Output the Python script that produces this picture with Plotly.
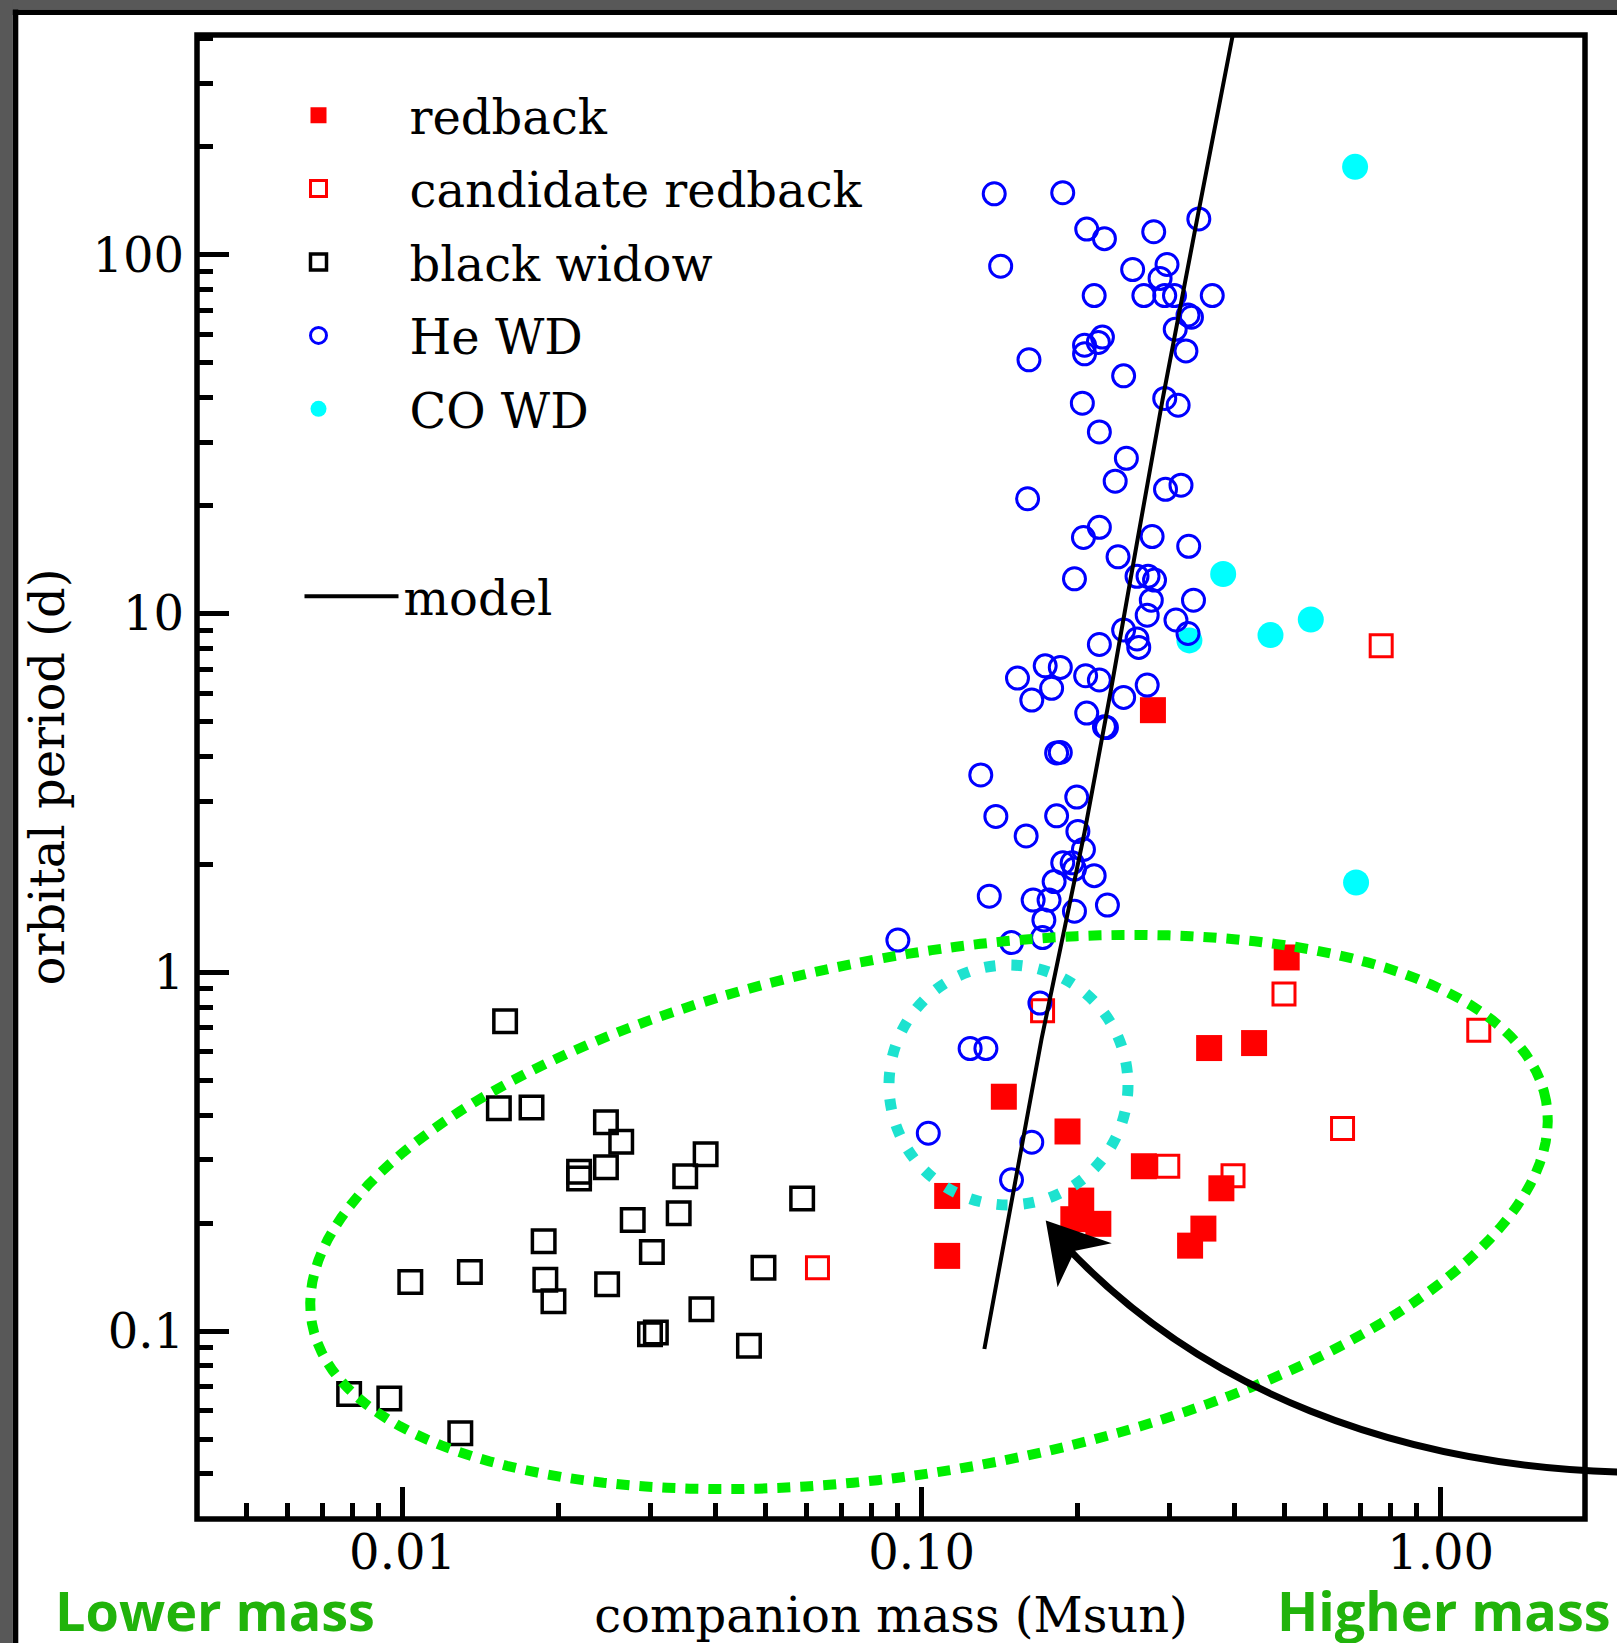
import math
import plotly.graph_objects as go

# ---------------- data ----------------
rb_mass = [0.279, 0.505, 0.358, 0.437, 0.144, 0.191, 0.268, 0.378, 0.112, 0.203,
           0.196, 0.219, 0.349, 0.329, 0.112]
rb_period = [5.38, 1.10, 0.615, 0.635, 0.450, 0.360, 0.288, 0.250, 0.238, 0.231,
             0.205, 0.199, 0.193, 0.173, 0.162]

crb_mass = [0.171, 0.499, 1.184, 0.647, 0.298, 0.398, 0.063, 0.768]
crb_period = [0.781, 0.870, 0.690, 0.367, 0.288, 0.271, 0.150, 8.14]

bw_mass = [0.01576, 0.01533, 0.01772, 0.02465, 0.02638, 0.02188, 0.02188, 0.02465,
           0.03836, 0.03504, 0.05886, 0.02776, 0.03404, 0.0187, 0.03022, 0.01035,
           0.01348, 0.01884, 0.01953, 0.02478, 0.04958, 0.03765, 0.02997, 0.03076,
           0.04649, 0.00789, 0.00943, 0.01292]
bw_period = [0.730, 0.418, 0.420, 0.382, 0.337, 0.278, 0.266, 0.286,
             0.311, 0.270, 0.234, 0.204, 0.213, 0.178, 0.166, 0.137,
             0.146, 0.139, 0.121, 0.135, 0.150, 0.115, 0.098, 0.099,
             0.091, 0.0667, 0.0649, 0.0519]

he_mass = [0.138, 0.187, 0.208, 0.225, 0.280, 0.342, 0.142, 0.255, 0.297, 0.288,
           0.215, 0.268, 0.294, 0.307, 0.363, 0.326, 0.331, 0.308, 0.323, 0.223,
           0.219, 0.206, 0.206, 0.161, 0.245, 0.204, 0.294, 0.312, 0.220, 0.248,
           0.236, 0.295, 0.316, 0.160, 0.220, 0.205, 0.278, 0.327, 0.239, 0.197,
           0.260, 0.273, 0.281, 0.277, 0.334, 0.272, 0.309, 0.326, 0.245, 0.260,
           0.262, 0.220, 0.173, 0.185, 0.153, 0.207, 0.220, 0.178, 0.272, 0.163,
           0.245, 0.208, 0.225, 0.227, 0.182, 0.185, 0.130, 0.199, 0.139, 0.182,
           0.159, 0.200, 0.205, 0.187, 0.195, 0.197, 0.215, 0.180, 0.135, 0.164,
           0.176, 0.197, 0.228, 0.172, 0.171, 0.090, 0.149, 0.169, 0.124, 0.133,
           0.103, 0.163, 0.149]
he_period = [148, 149, 118, 111, 116, 126, 93, 91, 94, 86,
             77, 77, 77, 77, 77, 68, 67, 62, 54, 59,
             57, 56, 53, 51, 46, 38.6, 39.8, 38.1, 32.1, 27.1,
             23.4, 22.2, 22.8, 20.9, 17.4, 16.3, 16.4, 15.4, 14.4, 12.5,
             12.7, 12.7, 12.4, 10.9, 10.9, 9.9, 9.6, 8.8, 9.0, 8.5,
             8.05, 8.2, 7.15, 7.08, 6.61, 6.71, 6.53, 6.19, 6.32, 5.74,
             5.84, 5.28, 4.84, 4.81, 4.09, 4.10, 3.55, 3.08, 2.72, 2.73,
             2.40, 2.47, 2.20, 2.02, 2.02, 1.94, 1.86, 1.79, 1.63, 1.59,
             1.59, 1.48, 1.54, 1.40, 1.25, 1.23, 1.21, 0.821, 0.613, 0.613,
             0.356, 0.336, 0.264]

co_mass = [0.684, 0.381, 0.470, 0.562, 0.328, 0.687]
co_period = [176, 12.9, 8.71, 9.63, 8.42, 1.78]

model_mass = [0.1321, 0.1702, 0.2060, 0.2312, 0.2607, 0.2913, 0.3403, 0.403]
model_period = [0.0891, 0.651, 2.46, 6.04, 16.13, 39.6, 128.3, 454]

x_tickvals = [0.01, 0.1, 1.0]
x_ticktext = ["0.01", "0.10", "1.00"]
y_tickvals = [0.1, 1, 10, 100]
y_ticktext = ["0.1", "1", "10", "100"]
x_minor = [d * 10.0 ** e for e in (-3, -2, -1) for d in range(2, 10)]
y_minor = [d * 10.0 ** e for e in (-2, -1, 0, 1, 2) for d in range(2, 10)]

# ---------------- layout geometry ----------------
W, H = 1617, 1643
ML, MR, MT, MB = 197, 32, 35, 124
PW, PH = W - ML - MR, H - MT - MB


def px(x):
    return (x - ML) / PW


def py(y):
    return (H - MB - y) / PH


SERIF = "DejaVu Serif"

fig = go.Figure()

# drawing order: black widow, redback, candidate, CO WD, He WD, model
fig.add_trace(go.Scatter(
    x=bw_mass, y=bw_period, mode="markers", name="black widow",
    legendgroup="bw", legendrank=3,
    marker=dict(symbol="square-open", size=22.5, color="black",
                line=dict(width=3.5, color="black"))))
fig.add_trace(go.Scatter(
    x=rb_mass, y=rb_period, mode="markers", name="redback",
    legendgroup="rb", legendrank=1,
    marker=dict(symbol="square", size=26, color="#ff0000",
                line=dict(width=0))))
fig.add_trace(go.Scatter(
    x=crb_mass, y=crb_period, mode="markers", name="candidate redback",
    legendgroup="crb", legendrank=2,
    marker=dict(symbol="square-open", size=22, color="#ff0000",
                line=dict(width=3, color="#ff0000"))))
fig.add_trace(go.Scatter(
    x=co_mass, y=co_period, mode="markers", name="CO WD",
    legendgroup="co", legendrank=5,
    marker=dict(symbol="circle", size=26, color="#00ffff",
                line=dict(width=0))))
fig.add_trace(go.Scatter(
    x=he_mass, y=he_period, mode="markers", name="He WD",
    legendgroup="he", legendrank=4,
    marker=dict(symbol="circle-open", size=22, color="#0000ff",
                line=dict(width=3, color="#0000ff"))))
fig.add_trace(go.Scatter(
    x=model_mass, y=model_period, mode="lines", name="model",
    legend="legend2",
    line=dict(color="black", width=4)))

shapes = []
# dark slide border (top and left)
gray = "#585858"
shapes.append(dict(type="rect", xref="paper", yref="paper", layer="below",
                   x0=px(0), x1=px(W), y0=py(0), y1=py(9.5),
                   fillcolor=gray, line=dict(width=0)))
shapes.append(dict(type="rect", xref="paper", yref="paper", layer="below",
                   x0=px(0), x1=px(12.7), y0=py(0), y1=py(H),
                   fillcolor=gray, line=dict(width=0)))
shapes.append(dict(type="rect", xref="paper", yref="paper", layer="below",
                   x0=px(12.7), x1=px(W), y0=py(9.5), y1=py(15),
                   fillcolor="black", line=dict(width=0)))
shapes.append(dict(type="rect", xref="paper", yref="paper", layer="below",
                   x0=px(12.7), x1=px(18.3), y0=py(9.5), y1=py(H),
                   fillcolor="black", line=dict(width=0)))

# plot frame
shapes.append(dict(type="rect", xref="paper", yref="paper", layer="above",
                   x0=0, x1=1, y0=0, y1=1,
                   line=dict(color="black", width=5.5)))

# green dotted ellipse (overlay annotation)
cx, cy, ea, eb, th = 929.0, 1212.0, 627.0, 258.0, math.radians(10.2)
pts = []
n = 160
for i in range(n):
    t = 2 * math.pi * i / n
    ex = cx + ea * math.cos(th) * math.cos(t) - eb * math.sin(th) * math.sin(t)
    ey = cy - (ea * math.sin(th) * math.cos(t) + eb * math.cos(th) * math.sin(t))
    pts.append(f"{px(ex):.5f},{py(ey):.5f}")
ell_path = "M " + " L ".join(pts) + " Z"
shapes.append(dict(type="path", xref="paper", yref="paper", layer="above",
                   path=ell_path,
                   line=dict(color="#00ee00", width=10, dash="13px,10px")))

# turquoise dotted circle
shapes.append(dict(type="circle", xref="paper", yref="paper", layer="above",
                   x0=px(889), x1=px(1128), y0=py(1205), y1=py(965),
                   line=dict(color="#1de2cf", width=11, dash="11px,16px")))


# hand-drawn curved arrow
def P(x, y):
    return f"{px(x):.5f},{py(y):.5f}"


arrow_path = ("M " + P(1620, 1472) + " C " + P(1400, 1466) + " " + P(1200, 1392)
              + " " + P(1062, 1242))
shapes.append(dict(type="path", xref="paper", yref="paper", layer="above",
                   path=arrow_path, line=dict(color="black", width=7)))
head_path = ("M " + P(1047, 1222) + " L " + P(1108, 1243) + " L " + P(1074, 1250)
             + " L " + P(1058, 1284) + " Z")
shapes.append(dict(type="path", xref="paper", yref="paper", layer="above",
                   path=head_path, fillcolor="black",
                   line=dict(color="black", width=2)))

annotations = [
    dict(text="Lower mass", xref="paper", yref="paper", x=px(53), y=py(1610),
         xanchor="left", yanchor="middle", showarrow=False,
         font=dict(family="Open Sans", size=54, color="#21b30b", weight=700)),
    dict(text="Higher mass", xref="paper", yref="paper", x=px(1613), y=py(1610),
         xanchor="right", yanchor="middle", showarrow=False,
         font=dict(family="Open Sans", size=54, color="#21b30b", weight=700)),
]

axis_common = dict(
    type="log", showgrid=False, zeroline=False, showline=False,
    automargin=False,
    ticks="inside", ticklen=32, tickwidth=5, tickcolor="black",
    tickfont=dict(family=SERIF, size=48, color="black"),
)

fig.update_layout(
    width=W, height=H,
    margin=dict(l=ML, r=MR, t=MT, b=MB, pad=0, autoexpand=False),
    paper_bgcolor="white", plot_bgcolor="white",
    font=dict(family=SERIF, size=48, color="black"),
    xaxis=dict(
        range=[-2.396, 0.278], tickvals=x_tickvals, ticktext=x_ticktext,
        ticklabelstandoff=1,
        minor=dict(tickvals=x_minor, ticks="inside", ticklen=16, tickwidth=5,
                   tickcolor="black", showgrid=False),
        title=dict(text="companion mass (Msun)",
                   font=dict(family=SERIF, size=48, color="black"), standoff=22),
        **axis_common),
    yaxis=dict(
        range=[-1.524, 2.613], tickvals=y_tickvals, ticktext=y_ticktext,
        ticklabelstandoff=12,
        minor=dict(tickvals=y_minor, ticks="inside", ticklen=16, tickwidth=5,
                   tickcolor="black", showgrid=False),
        title=dict(text="orbital period (d)",
                   font=dict(family=SERIF, size=48, color="black"), standoff=12),
        **axis_common),
    legend=dict(
        x=px(227.5), y=py(77.5), xanchor="left", yanchor="top",
        font=dict(family=SERIF, size=48, color="black"),
        bgcolor="rgba(0,0,0,0)", borderwidth=0,
        itemwidth=172, tracegroupgap=8, itemsizing="trace",
        traceorder="grouped",
    ),
    legend2=dict(
        x=px(299.5), y=py(558.5), xanchor="left", yanchor="top",
        font=dict(family=SERIF, size=48, color="black"),
        bgcolor="rgba(0,0,0,0)", borderwidth=0, itemwidth=94,
    ),
    shapes=shapes,
    annotations=annotations,
    showlegend=True,
)

fig.write_html(
    "out.html",
    config={"displayModeBar": False},
    post_script="document.body.style.margin='0px';"
                "document.body.style.padding='0px';"
                "document.body.style.overflow='hidden';",
)
